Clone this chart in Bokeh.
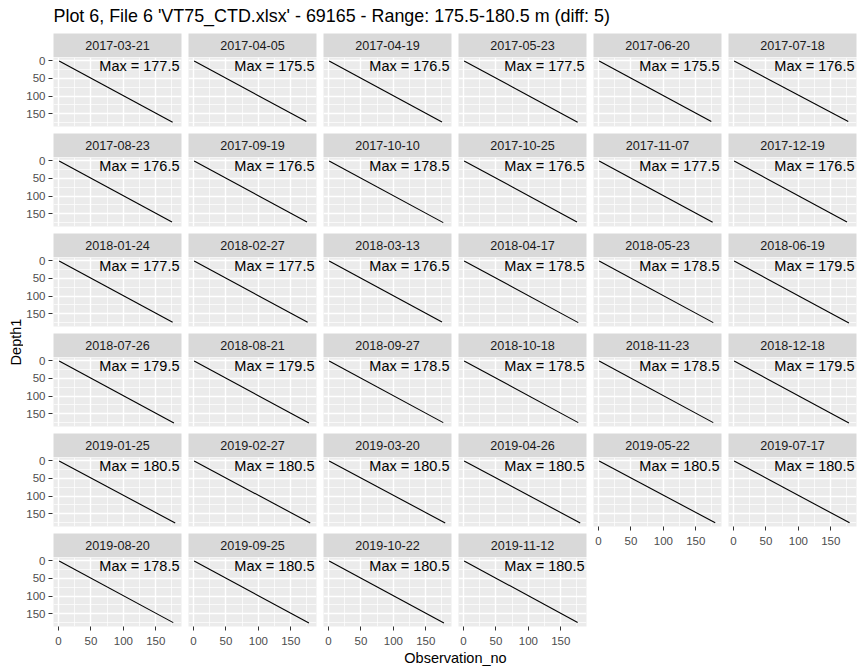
import math
from bokeh.plotting import figure
from bokeh.layouts import row, column
from bokeh.models import Range1d, FixedTicker, ColumnDataSource
from bokeh.core.properties import value
from bokeh.embed import file_html
from bokeh.resources import INLINE

# ---------------- data ----------------
title_text = "Plot 6, File 6 'VT75_CTD.xlsx' - 69165 - Range: 175.5-180.5 m (diff: 5)"
x_title = "Observation_no"
y_title = "Depth1"

dates = ["2017-03-21", "2017-04-05", "2017-04-19", "2017-05-23", "2017-06-20", "2017-07-18",
         "2017-08-23", "2017-09-19", "2017-10-10", "2017-10-25", "2017-11-07", "2017-12-19",
         "2018-01-24", "2018-02-27", "2018-03-13", "2018-04-17", "2018-05-23", "2018-06-19",
         "2018-07-26", "2018-08-21", "2018-09-27", "2018-10-18", "2018-11-23", "2018-12-18",
         "2019-01-25", "2019-02-27", "2019-03-20", "2019-04-26", "2019-05-22", "2019-07-17",
         "2019-08-20", "2019-09-25", "2019-10-22", "2019-11-12"]

max_vals = [177.5, 175.5, 176.5, 177.5, 175.5, 176.5,
            176.5, 176.5, 178.5, 176.5, 177.5, 176.5,
            177.5, 177.5, 176.5, 178.5, 178.5, 179.5,
            179.5, 179.5, 178.5, 178.5, 178.5, 179.5,
            180.5, 180.5, 180.5, 180.5, 180.5, 180.5,
            178.5, 180.5, 180.5, 180.5]

# first and last (Observation_no, Depth1) of each profile
obs_first = [1] * 34
depth_first = [0.5] * 34
obs_last = [176, 174, 175, 176, 174, 177,
            175, 175, 177, 175, 176, 175,
            176, 176, 175, 177, 177, 178,
            178, 178, 177, 177, 177, 178,
            180, 180, 180, 180, 180, 179,
            177, 178, 178, 176]
depth_last = [174, 172, 173, 174, 172, 172,
              173, 173, 175, 173, 174, 173,
              174, 174, 173, 175, 175, 176,
              176, 176, 175, 175, 175, 176,
              176, 176, 176, 176, 175.5, 175.5,
              175, 176, 176, 174.5]

ticks = [0, 50, 100, 150]
minor_ticks = [25, 75, 125, 175]
x_limits = (-7.7, 189.7)
y_limits = (-9.3, 186.0)   # reversed axis: -9.3 at the top

# ---------------- style ----------------
FONT = "Liberation Sans"
NCOL = 6
FRAME_W, FRAME_H, STRIP_H = 128, 69, 24
GAP = 7
AXIS_H = 24
LEFT_AXIS_W = 30
TITLE_H = 33
XLAB_H = 22
PANEL_BG = "#EBEBEB"
STRIP_BG = "#D9D9D9"
TICK_FONT = "11.5px"

n = len(dates)
last_in_col = {}
for i in range(n):
    last_in_col[i % NCOL] = i
nrows_full = len(range(0, n, NCOL))


def right_border(c):
    return GAP if c < NCOL - 1 else 8


def style_axis(ax, standoff):
    ax.ticker = FixedTicker(ticks=ticks, minor_ticks=[])
    ax.axis_line_color = None
    ax.major_tick_line_color = "#333333"
    ax.major_tick_out = 4
    ax.major_tick_in = 0
    ax.minor_tick_line_color = None
    ax.major_label_text_font = FONT
    ax.major_label_text_font_size = TICK_FONT
    ax.major_label_text_color = "#4D4D4D"
    ax.major_label_standoff = standoff


def make_yaxis_fig(bottom):
    # narrow figure holding the left axis of one facet row; spans strip + panel
    p = figure(frame_width=1, frame_height=FRAME_H,
               min_border=0, min_border_left=LEFT_AXIS_W - 1, min_border_right=0,
               min_border_top=STRIP_H, min_border_bottom=AXIS_H if bottom else GAP,
               x_range=Range1d(0, 1), y_range=Range1d(y_limits[1], y_limits[0]),
               x_axis_location=None, y_axis_location="left",
               toolbar_location=None, output_backend="svg",
               background_fill_color="white", border_fill_color="white",
               outline_line_color=None)
    p.grid.visible = False
    style_axis(p.yaxis[0], 3)
    return p


def make_strip(i):
    c = i % NCOL
    p = figure(frame_width=FRAME_W, frame_height=STRIP_H,
               min_border=0, min_border_left=0,
               min_border_right=right_border(c), min_border_top=0, min_border_bottom=0,
               x_range=Range1d(0, 1), y_range=Range1d(0, 1),
               x_axis_location=None, y_axis_location=None,
               toolbar_location=None, output_backend="svg",
               background_fill_color=STRIP_BG, border_fill_color="white",
               outline_line_color=None)
    p.grid.visible = False
    src = ColumnDataSource(dict(x=[0.5], y=[0.5], t=[dates[i]]))
    p.text(x="x", y="y", text="t", source=src, text_align="center",
           text_baseline="middle", text_font=value(FONT), text_font_size="12.6px",
           text_color="#1A1A1A", y_offset=0)
    return p


def make_panel(i):
    c = i % NCOL
    bottom = last_in_col[c] == i
    p = figure(frame_width=FRAME_W, frame_height=FRAME_H,
               min_border=0, min_border_left=0,
               min_border_right=right_border(c), min_border_top=0,
               min_border_bottom=AXIS_H if bottom else GAP,
               x_range=Range1d(*x_limits), y_range=Range1d(y_limits[1], y_limits[0]),
               x_axis_location="below" if bottom else None,
               y_axis_location=None,
               toolbar_location=None, output_backend="svg",
               background_fill_color=PANEL_BG, border_fill_color="white",
               outline_line_color=None)
    for g in (p.xgrid, p.ygrid):
        g.ticker = FixedTicker(ticks=ticks, minor_ticks=minor_ticks)
        g.grid_line_color = "white"
        g.grid_line_width = 1.4
        g.minor_grid_line_color = "white"
        g.minor_grid_line_width = 0.7
    for ax in p.xaxis:
        style_axis(ax, 6)

    src = ColumnDataSource(dict(x=[obs_first[i], obs_last[i]],
                                y=[depth_first[i], depth_last[i]]))
    p.line(x="x", y="y", source=src, line_color="black", line_width=1.1)

    lab = ColumnDataSource(dict(x=[x_limits[1]], y=[y_limits[0]],
                                t=["Max = %g" % max_vals[i]]))
    p.text(x="x", y="y", text="t", source=lab, text_align="right",
           text_baseline="top", text_font=value(FONT), text_font_size="14.5px",
           text_color="black", x_offset=-2, y_offset=0)
    return p


cols = []
for c in range(NCOL):
    kids = []
    for i in range(c, n, NCOL):
        kids.append(make_strip(i))
        kids.append(make_panel(i))
    cols.append(column(*kids))

# left axes, one per facet row
yaxes = column(*[make_yaxis_fig(last_in_col[0] == i) for i in range(0, n, NCOL)])

col_height = nrows_full * (STRIP_H + FRAME_H + GAP) - GAP + AXIS_H
total_w = 864
depth_w = total_w - (LEFT_AXIS_W + FRAME_W + GAP) - (NCOL - 2) * (FRAME_W + GAP) - (FRAME_W + 8)

# y axis title
pd = figure(width=depth_w, height=col_height, min_border=0,
            x_range=Range1d(0, depth_w), y_range=Range1d(col_height, 0),
            x_axis_location=None, y_axis_location=None, toolbar_location=None,
            output_backend="svg", outline_line_color=None,
            background_fill_color="white", border_fill_color="white")
pd.grid.visible = False
pd.text(x=[15.5], y=[341.5 - TITLE_H], text=[y_title], angle=math.pi / 2,
        text_align="center", text_baseline="middle", text_font=value(FONT),
        text_font_size="14.5px", text_color="black")

# main title
pt = figure(width=total_w, height=TITLE_H, min_border=0,
            x_range=Range1d(0, total_w), y_range=Range1d(TITLE_H, 0),
            x_axis_location=None, y_axis_location=None, toolbar_location=None,
            output_backend="svg", outline_line_color=None,
            background_fill_color="white", border_fill_color="white")
pt.grid.visible = False
pt.text(x=[53], y=[15.5], text=[title_text], text_align="left",
        text_baseline="middle", text_font=value(FONT), text_font_size="17.9px",
        text_color="black")

# x axis title
xlab_top = TITLE_H + col_height
px = figure(width=total_w, height=XLAB_H, min_border=0,
            x_range=Range1d(0, total_w), y_range=Range1d(XLAB_H, 0),
            x_axis_location=None, y_axis_location=None, toolbar_location=None,
            output_backend="svg", outline_line_color=None,
            background_fill_color="white", border_fill_color="white")
px.grid.visible = False
px.text(x=[455], y=[657 - xlab_top], text=[x_title], text_align="center",
        text_baseline="middle", text_font=value(FONT), text_font_size="14.5px",
        text_color="black")

layout = column(pt, row(pd, yaxes, *cols), px)

open("out.html", "w").write(file_html(layout, INLINE))
